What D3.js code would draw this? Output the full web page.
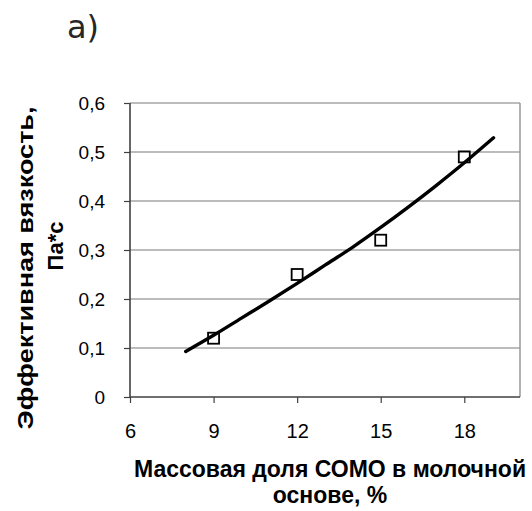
<!DOCTYPE html>
<html>
<head>
<meta charset="utf-8">
<script src="https://cdn.jsdelivr.net/npm/d3@7"></script>
<style>
  body { margin: 0; background: #fff; }
  svg { display: block; }
</style>
</head>
<body>
<div id="chart"></div>
<script>
// measured points (squares)
const pointX = [9, 12, 15, 18];
const pointY = [0.12, 0.25, 0.32, 0.49];

// trend line
const lineX = [8, 9, 10, 11, 12, 13, 14, 15, 16, 17, 18, 19.05];
const lineY = [0.093, 0.126, 0.161, 0.196, 0.232, 0.269, 0.306, 0.346, 0.388, 0.432, 0.478, 0.529];

const xTicks = [6, 9, 12, 15, 18];
const yTicks = [0, 0.1, 0.2, 0.3, 0.4, 0.5, 0.6];

const yTitle = ["Эффективная вязкость,", "Па*с"];
const xTitle = ["Массовая доля СОМО в молочной", "основе, %"];

function init(){

    const width = 532;
    const height = 511;
    const margin = {left: 130, right: 12, top: 103, bottom: 114};

    const svg = d3.select("#chart")
                .append("svg")
                .attr("width", width)
                .attr("height", height);

    const x = d3.scaleLinear()
                .domain([6, 20])
                .range([margin.left, width - margin.right]);

    const y = d3.scaleLinear()
                .domain([0, 0.6])
                .range([height - margin.bottom, margin.top]);

    const fmt = d => String(d3.format(".1~f")(d)).replace(".", ",");

    // gridlines
    svg.append("g")
        .selectAll("line")
        .data(yTicks.filter(d => d > 0))
        .enter().append("line")
        .attr("x1", x(6))
        .attr("x2", x(20))
        .attr("y1", d => y(d))
        .attr("y2", d => y(d))
        .attr("stroke", "#7a7a7a")
        .attr("stroke-width", 1.2);

    // right border
    svg.append("line")
        .attr("x1", x(20)).attr("x2", x(20))
        .attr("y1", y(0.6)).attr("y2", y(0))
        .attr("stroke", "#999")
        .attr("stroke-width", 1.5);

    // axes
    const yAxis = svg.append("g")
        .attr("transform", `translate(${x(6)},0)`)
        .call(d3.axisLeft(y).tickValues(yTicks).tickSize(6).tickPadding(19).tickFormat(fmt));

    const xAxis = svg.append("g")
        .attr("transform", `translate(0,${y(0)})`)
        .call(d3.axisBottom(x).tickValues(xTicks).tickSize(6).tickPadding(21).tickFormat(d3.format("d")));

    [yAxis, xAxis].forEach(g => {
        g.attr("font-size", null).attr("font-family", null);
        g.select(".domain").attr("stroke", "#404040").attr("stroke-width", 1.6);
        g.selectAll(".tick line").attr("stroke", "#404040").attr("stroke-width", 1.2);
        g.selectAll(".tick text")
            .attr("fill", "#000")
            .style("font-family", "'Liberation Sans', Arial, sans-serif")
            .style("font-size", "19px");
    });
    xAxis.select(".domain").attr("d", `M${x(6)},0H${x(20)}`);
    yAxis.select(".domain").attr("d", `M0,${y(0.6)}V${y(0)}`);
    xAxis.selectAll(".tick text").style("font-size", "20px");

    // trend line
    const line = d3.line()
                .x((d, i) => x(lineX[i]))
                .y((d, i) => y(lineY[i]))
                .curve(d3.curveCatmullRom);

    svg.append("path")
        .datum(lineY)
        .attr("d", line)
        .attr("fill", "none")
        .attr("stroke", "#000")
        .attr("stroke-width", 3.4)
        .attr("stroke-linecap", "round");

    // squares
    const s = 11;
    svg.append("g")
        .selectAll("rect")
        .data(pointX)
        .enter().append("rect")
        .attr("x", (d, i) => x(d) - s / 2)
        .attr("y", (d, i) => y(pointY[i]) - s / 2)
        .attr("width", s)
        .attr("height", s)
        .attr("fill", "none")
        .attr("stroke", "#000")
        .attr("stroke-width", 1.8);

    // axis titles
    const titleFont = "'Liberation Sans', Arial, sans-serif";

    svg.append("text")
        .attr("transform", "translate(33,268) rotate(-90)")
        .attr("text-anchor", "middle")
        .attr("font-family", titleFont)
        .attr("font-weight", "bold")
        .attr("font-size", "22px")
        .attr("textLength", 323)
        .attr("lengthAdjust", "spacingAndGlyphs")
        .text(yTitle[0]);

    svg.append("text")
        .attr("transform", "translate(63,246) rotate(-90)")
        .attr("text-anchor", "middle")
        .attr("font-family", titleFont)
        .attr("font-weight", "bold")
        .attr("font-size", "22px")
        .text(yTitle[1]);

    svg.append("text")
        .attr("x", 330)
        .attr("y", 477)
        .attr("text-anchor", "middle")
        .attr("font-family", titleFont)
        .attr("font-weight", "bold")
        .attr("font-size", "23px")
        .text(xTitle[0]);

    svg.append("text")
        .attr("x", 330)
        .attr("y", 503)
        .attr("text-anchor", "middle")
        .attr("font-family", titleFont)
        .attr("font-weight", "bold")
        .attr("font-size", "23px")
        .text(xTitle[1]);

    // panel label
    svg.append("text")
        .attr("x", 67)
        .attr("y", 38)
        .attr("font-family", "'DejaVu Sans', sans-serif")
        .attr("font-size", "32px")
        .attr("fill", "#262626")
        .text("a)");
}
window.onload = init;
</script>
</body>
</html>
